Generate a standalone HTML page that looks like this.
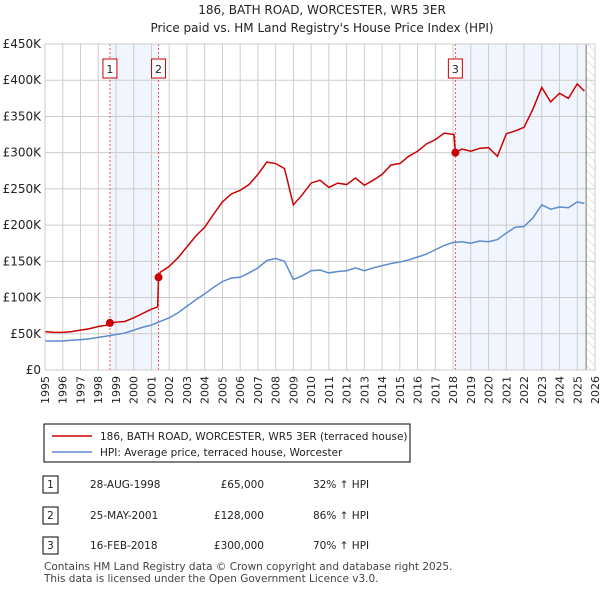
<!DOCTYPE html>
<html><head><meta charset="utf-8">
<style>
body{margin:0;background:#fff;font-family:"Liberation Sans","DejaVu Sans",sans-serif;}
svg text{font-family:"DejaVu Sans","Liberation Sans",sans-serif;}
</style></head>
<body>
<svg id="c" width="600" height="590" viewBox="0 0 600 590" xmlns="http://www.w3.org/2000/svg">
<defs>
<pattern id="hatch" width="6" height="6" patternUnits="userSpaceOnUse" patternTransform="rotate(-45)">
<line x1="0" y1="0" x2="0" y2="6" stroke="#ccc" stroke-width="1"/></pattern>
</defs>
<text x="322" y="14" text-anchor="middle" font-size="12" fill="#222">186, BATH ROAD, WORCESTER, WR5 3ER</text>
<text x="322" y="32" text-anchor="middle" font-size="12" fill="#222">Price paid vs. HM Land Registry's House Price Index (HPI)</text>
<g id="plot"></g>
<rect x="44" y="424" width="366" height="38" fill="#fff" stroke="#000" stroke-width="1"/>
<line x1="52" y1="436" x2="92" y2="436" stroke="#cc0000" stroke-width="1.5"/>
<text x="100" y="440" font-size="10.5" fill="#222">186, BATH ROAD, WORCESTER, WR5 3ER (terraced house)</text>
<line x1="52" y1="452" x2="92" y2="452" stroke="#5b8bd0" stroke-width="1.5"/>
<text x="100" y="456" font-size="10.5" fill="#222">HPI: Average price, terraced house, Worcester</text>
<g font-size="10.5" fill="#222">
<rect x="43" y="476" width="15" height="17" fill="#fff" stroke="#000"/><text x="50.5" y="488" text-anchor="middle">1</text>
<text x="90" y="488">28-AUG-1998</text><text x="264" y="488" text-anchor="end">£65,000</text><text x="313" y="488">32% ↑ HPI</text>
<rect x="43" y="507" width="15" height="17" fill="#fff" stroke="#000"/><text x="50.5" y="519" text-anchor="middle">2</text>
<text x="90" y="519">25-MAY-2001</text><text x="264" y="519" text-anchor="end">£128,000</text><text x="313" y="519">86% ↑ HPI</text>
<rect x="43" y="537" width="15" height="17" fill="#fff" stroke="#000"/><text x="50.5" y="549" text-anchor="middle">3</text>
<text x="90" y="549">16-FEB-2018</text><text x="264" y="549" text-anchor="end">£300,000</text><text x="313" y="549">70% ↑ HPI</text>
</g>
<text x="44" y="570" font-size="10.5" fill="#444">Contains HM Land Registry data © Crown copyright and database right 2025.</text>
<text x="44" y="582" font-size="10.5" fill="#444">This data is licensed under the Open Government Licence v3.0.</text>
</svg>
<script>
const yTicks=[0,50,100,150,200,250,300,350,400,450];
const yTickLabels=["£0","£50K","£100K","£150K","£200K","£250K","£300K","£350K","£400K","£450K"];
const years=[1995,1996,1997,1998,1999,2000,2001,2002,2003,2004,2005,2006,2007,2008,2009,2010,2011,2012,2013,2014,2015,2016,2017,2018,2019,2020,2021,2022,2023,2024,2025,2026];
const saleDates=[1998.66,2001.4,2018.13];
const salePrices=[65,128,300];
const saleLabels=["1","2","3"];
const hpiX=[1995,1995.5,1996,1996.5,1997,1997.5,1998,1998.5,1999,1999.5,2000,2000.5,2001,2001.5,2002,2002.5,2003,2003.5,2004,2004.5,2005,2005.5,2006,2006.5,2007,2007.5,2008,2008.5,2009,2009.5,2010,2010.5,2011,2011.5,2012,2012.5,2013,2013.5,2014,2014.5,2015,2015.5,2016,2016.5,2017,2017.5,2018,2018.5,2019,2019.5,2020,2020.5,2021,2021.5,2022,2022.5,2023,2023.5,2024,2024.5,2025,2025.4];
const hpiY=[40,40,40,41,42,43,45,47,49,51,55,59,62,67,72,79,88,97,105,114,122,127,128,134,141,151,154,150,125,130,137,138,134,136,137,141,137,141,144,147,149,152,156,160,166,172,176,177,175,178,177,180,189,197,198,210,228,222,225,224,232,230];
const priceX=[1995,1995.5,1996,1996.5,1997,1997.5,1998,1998.5,1998.66,1999,1999.5,2000,2000.5,2001,2001.35,2001.4,2001.5,2002,2002.5,2003,2003.5,2004,2004.5,2005,2005.5,2006,2006.5,2007,2007.5,2008,2008.5,2009,2009.5,2010,2010.5,2011,2011.5,2012,2012.5,2013,2013.5,2014,2014.5,2015,2015.5,2016,2016.5,2017,2017.5,2018.05,2018.13,2018.5,2019,2019.5,2020,2020.5,2021,2021.5,2022,2022.5,2023,2023.5,2024,2024.5,2025,2025.4];
const priceY=[53,52,52,53,55,57,60,62,65,66,67,72,78,84,87,128,135,143,155,170,185,197,215,232,243,248,256,270,287,285,278,228,242,258,262,252,258,256,265,255,262,270,283,285,295,302,312,318,327,325,300,305,302,306,307,295,326,330,335,360,390,370,382,375,395,385];

const L=45,R=595,T=44,B=370,X0=1995,X1=2026,YMAX=450;
const xs=v=>L+(v-X0)/(X1-X0)*(R-L);
const ys=v=>B-v/YMAX*(B-T);
const NS="http://www.w3.org/2000/svg";
const g=document.getElementById('plot');
function mk(t,a,p){const e=document.createElementNS(NS,t);for(const k in a)e.setAttribute(k,a[k]);(p||g).appendChild(e);return e;}
mk('rect',{x:L,y:T,width:R-L,height:B-T,fill:'#fff'});
const b1=mk('rect',{x:xs(saleDates[0]),y:T,width:xs(saleDates[1])-xs(saleDates[0]),height:B-T,fill:'#eef3fc',opacity:0.8});


const b2=mk('rect',{x:xs(saleDates[2]),y:T,width:xs(2025.5)-xs(saleDates[2]),height:B-T,fill:'#eef3fc',opacity:0.8});


const hz=mk('rect',{x:xs(2025.5),y:T,width:R-xs(2025.5),height:B-T,fill:'url(#hatch)'});


years.forEach(y=>{
 const l=mk('line',{x1:xs(y),x2:xs(y),y1:T,y2:B,stroke:'#ccc','stroke-width':1});
 
 
 const t=mk('text',{x:0,y:0,'font-size':11,fill:'#222','text-anchor':'end',transform:`translate(${xs(y)+4},${B+6}) rotate(-90)`});
 t.textContent=y;
 
 
});
yTicks.forEach((v,i)=>{
 const l=mk('line',{x1:L,x2:R,y1:ys(v),y2:ys(v),stroke:'#ccc','stroke-width':1});
 
 
 const t=mk('text',{x:L-4,y:ys(v)+4,'font-size':12,fill:'#222','text-anchor':'end'});
 t.textContent=yTickLabels[i];
 
 
});
const nowl=mk('line',{x1:xs(2025.5),x2:xs(2025.5),y1:T,y2:B,stroke:'#777','stroke-width':1});


saleDates.forEach((d,i)=>{
 const l=mk('line',{x1:xs(d),x2:xs(d),y1:T,y2:B,stroke:'#e55','stroke-width':1,'stroke-dasharray':'2,2'});
 
 
 const r=mk('rect',{x:xs(d)-7,y:T+15,width:14,height:19,fill:'#fff',stroke:'#c00'});
 
 
 const t=mk('text',{x:xs(d),y:T+29,'font-size':11,fill:'#222','text-anchor':'middle'});
 t.textContent=saleLabels[i];
 
 
});
const hp=mk('polyline',{points:hpiX.map((x,i)=>xs(x)+','+ys(hpiY[i])).join(' '),fill:'none',stroke:'#5b8bd0','stroke-width':1.5});


const pp=mk('polyline',{points:priceX.map((x,i)=>xs(x)+','+ys(priceY[i])).join(' '),fill:'none',stroke:'#cc0000','stroke-width':1.5});


saleDates.forEach((d,i)=>{
 const c=mk('circle',{cx:xs(d),cy:ys(salePrices[i]),r:4,fill:'#cc0000'});
 
 
});
const ax=mk('rect',{x:L,y:T,width:R-L,height:B-T,fill:'none',stroke:'#ccc'});


</script>
</body></html>
